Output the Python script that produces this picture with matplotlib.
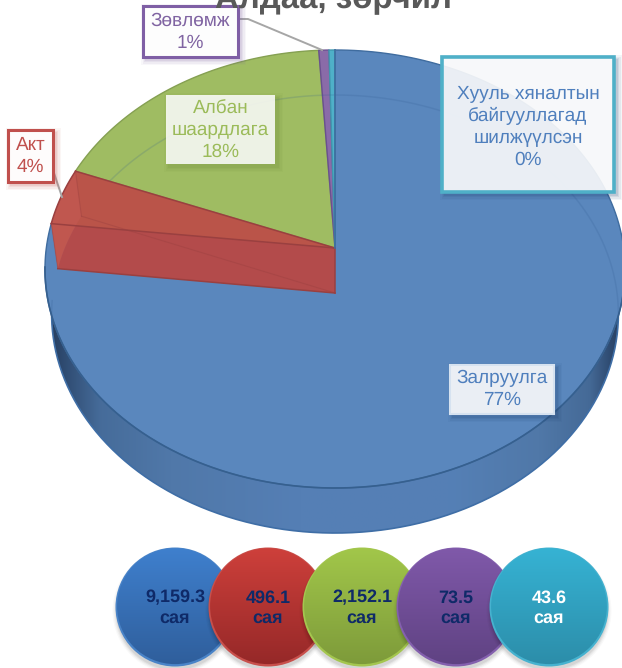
import numpy as np
import matplotlib
matplotlib.use("Agg")
import matplotlib.pyplot as plt
from matplotlib.patches import Polygon, Circle, Rectangle
from matplotlib.colors import to_rgb

# ---- data ----
names = ["Залруулга", "Акт", "Албан\nшаардлага", "Зөвлөмж", "Хууль хяналтын\nбайгууллагад\nшилжүүлсэн"]
values = [9159.3, 496.1, 2152.1, 73.5, 43.6]
face_colors = ["#5A87BD", "#BC5249", "#9FBC62", "#8A6BA8", "#4FB0C8"]
label_colors = ["#4F7FBD", "#C0504D", "#9BBB59", "#8064A2", "#4F7FBD"]
title = "Алдаа, зөрчил"
unit = "сая"

W, H = 622, 668
plt.rcParams["font.family"] = ["Liberation Sans", "DejaVu Sans"]
plt.rcParams["text.hinting"] = "no_hinting"
plt.rcParams["text.hinting_factor"] = 1
fig = plt.figure(figsize=(W / 100, H / 100), dpi=100)
ax = fig.add_axes([0, 0, 1, 1])
ax.set_xlim(0, W); ax.set_ylim(H, 0); ax.axis("off")

# ---- perspective pie geometry ----
CX, CY, RX, RY, K, DEPTH, BASE_SCALE = 335, 248, 288.7, 217, 0.0959, 45, 0.977

def top_pts(a, b, n=200):
    t = np.radians(np.linspace(a, b, n))
    d = 1 + K * np.cos(t)
    return np.column_stack([CX + RX * np.sin(t) / d, CY - RY * np.cos(t) / d])

def base_pts(a, b, n=200):
    p = top_pts(a, b, n)
    p[:, 0] = CX + (p[:, 0] - CX) * BASE_SCALE
    p[:, 1] += DEPTH
    return p

total = sum(values)
edges = np.concatenate([[0], np.cumsum(values) / total * 360])
apex = np.array([[CX, CY]])
apex_b = np.array([[CX, CY + DEPTH]])

# side wall with horizontal shading
side = Polygon(np.vstack([top_pts(90, 270), base_pts(270, 90)]), closed=True,
               facecolor="none", edgecolor="none", transform=ax.transData)
ax.add_patch(side)
xs = np.linspace(40, 630, 300)
stops_x = [40, 62, 100, 170, 300, 450, 540, 590, 612, 630]
stops_c = ["#22344F", "#2E4A70", "#466C9A", "#5078A9", "#557FB5", "#5580B6", "#5078A8", "#456A97", "#2E4A70", "#22344F"]
rgb = np.array([to_rgb(c) for c in stops_c])
grad = np.column_stack([np.interp(xs, stops_x, rgb[:, i]) for i in range(3)])[None, :, :]
im = ax.imshow(grad, extent=[40, 630, 540, 240], aspect="auto", interpolation="bilinear", zorder=1)
im.set_clip_path(side)
ax.set_xlim(0, W); ax.set_ylim(H, 0)
p = base_pts(90, 270)
ax.plot(p[:, 0], p[:, 1], color="#3F6EA6", lw=1.2, zorder=1.5)

# slices
order = [0, 2, 3, 4]
edge_dark = {0: "#3F6C9F", 2: "#85A052", 3: "#6A5090", 4: "#3F97AE"}
for i in order:
    arc = top_pts(edges[i], edges[i + 1])
    ax.add_patch(Polygon(np.vstack([apex, arc]), closed=True, facecolor=face_colors[i],
                         edgecolor=edge_dark[i], lw=1.0, zorder=2, joinstyle="round"))

# base ring seen through the transparent top
ring = base_pts(0, 360, 400)
keep = ~((ring[:, 1] < 300) & (ring[:, 0] < 100) & (ring[:, 1] > 170))
rx, ry = ring[:, 0].copy(), ring[:, 1].copy()
rx[~keep] = np.nan
ring_clip = Polygon(top_pts(0, 360, 400), closed=True, transform=ax.transData, facecolor="none", edgecolor="none")
ax.add_patch(ring_clip)
ln, = ax.plot(rx, ry, color="#2F5A90", alpha=0.18, lw=1.1, zorder=2.5)
ln.set_clip_path(ring_clip)
ax.plot(*top_pts(95, 265).T, color="#36608F", lw=1.2, zorder=2.6)

# red slice drawn as translucent walls with an opaque floor
a, b = edges[1], edges[2]
t_arc, b_arc = top_pts(a, b, 40), base_pts(a, b, 40)
RED = "#BA5449"; RED_E = "#9A4040"
ax.add_patch(Polygon(np.vstack([apex_b, b_arc, t_arc[::-1][:1], apex]), closed=True,
                     facecolor=RED, edgecolor="none", zorder=2.9))
ax.add_patch(Polygon(np.vstack([apex, apex_b, b_arc[:1], t_arc[:1]]), closed=True,
                     facecolor="#B34B4C", alpha=0.9, edgecolor="none", zorder=3.1))
ax.add_patch(Polygon(np.vstack([t_arc, b_arc[::-1]]), closed=True,
                     facecolor="#C0574F", edgecolor="none", zorder=3.2))
ax.add_patch(Polygon(np.vstack([apex, t_arc]), closed=True, facecolor=RED, alpha=1.0,
                     edgecolor="none", zorder=3.05))
for seg in [np.vstack([apex, t_arc[:1]]), np.vstack([apex, t_arc[-1:]]), t_arc,
            np.vstack([apex_b, b_arc[:1]]), np.vstack([apex, apex_b])]:
    ax.plot(seg[:, 0], seg[:, 1], color=RED_E, lw=1.1, zorder=3.5)
for seg in [np.vstack([t_arc[:1], b_arc[:1]]), np.vstack([t_arc[-1:], b_arc[-1:]]),
            np.vstack([apex_b, b_arc[-1:]])]:
    ax.plot(seg[:, 0], seg[:, 1], color=RED_E, lw=0.8, alpha=0.4, zorder=3.4)
ax.plot([CX, CX], [50, CY], color="#3F6C9F", lw=1.2, zorder=3.6)

# ---- title (runs off the top of the picture, as in the reference) ----
ax.text(333, 8.5, title, ha="center", va="baseline", fontsize=23.5, fontweight="bold",
        color="#595959", zorder=6, clip_on=False)

# ---- callouts ----
def shadow_rect(x0, y0, x1, y1, color, z, off=3):
    for g, al in zip([5, 3.5, 2, 1], [0.05, 0.07, 0.09, 0.11]):
        ax.add_patch(Rectangle((x0 - g + off, y0 - g + off), x1 - x0 + 2 * g, y1 - y0 + 2 * g,
                               facecolor=color, edgecolor="none", alpha=al, zorder=z))

pct = [f"{round(v / total * 100)}%" for v in values]
boxes = [
    (450, 365, 554, 414, "#FFFFFF", 0.89, "#D6E2F0", 1.5, 502, 389, "#1F3F6F"),
    (8, 130, 53, 182, "#FFFFFF", 0.96, "#C0504D", 2.2, 30.5, 156, "#C0504D"),
    (166, 95, 275, 164, "#FFFFFF", 0.85, "none", 0, 220.5, 130, "#6F8A3A"),
    (143, 6, 238, 57, "#FFFFFF", 0.96, "#7F5FA5", 2.2, 190.5, 32, "#8064A2"),
    (442, 57, 614, 192, "#FFFFFF", 0.89, "#4FB0C8", 2.6, 528, 127, "#1F3F6F"),
]
ax.plot([53, 62], [170, 197], color="#A6A6A6", lw=1.4, zorder=3.8)
ax.plot([238, 248, 322], [19, 19, 50], color="#A6A6A6", lw=1.4, zorder=3.8)
for i, (x0, y0, x1, y1, fc, al, ec, lw, tx, ty, sh) in enumerate(boxes):
    shadow_rect(x0, y0, x1, y1, sh, 4)
    ax.add_patch(Rectangle((x0, y0), x1 - x0, y1 - y0, facecolor=fc, alpha=al, edgecolor="none", zorder=4.2))
    if lw:
        ax.add_patch(Rectangle((x0, y0), x1 - x0, y1 - y0, facecolor="none", edgecolor=ec, lw=lw, zorder=4.3))
    ax.text(tx, ty, f"{names[i]}\n{pct[i]}", ha="center", va="center", ma="center", fontsize=13.5,
            linespacing=1.28, color=label_colors[i], zorder=5)

# ---- value bubbles ----
bubble_x = [175, 268, 362, 456, 549]
bubble_top = ["#3F80CE", "#CE403B", "#A2C74A", "#8059AA", "#36B3D4"]
bubble_bot = ["#2F5E9B", "#952828", "#7D9A3A", "#5F4282", "#2C8DA9"]
bubble_rim = ["#4A84C8", "#C8504C", "#A4C64F", "#8460AE", "#46B2CF"]
text_col = ["#0F2A68", "#0F2A68", "#0F2A68", "#0F2A68", "#FFFFFF"]
BY, BR = 607, 59.5
for i, v in enumerate(values):
    z = 7 + i
    cx = bubble_x[i]
    for g, al in zip([4, 2.8, 1.6, 0.5], [0.025, 0.035, 0.05, 0.06]):
        ax.add_patch(Circle((cx, BY + 4), BR - 1 + g, facecolor="black", edgecolor="none", alpha=al, zorder=z))
    ax.add_patch(Circle((cx, BY), BR, facecolor=bubble_rim[i], edgecolor="none", zorder=z + 0.1))
    clip = Circle((cx, BY - 0.8), BR - 1.6, facecolor="none", edgecolor="none")
    ax.add_patch(clip)
    c0, c1 = np.array(to_rgb(bubble_top[i])), np.array(to_rgb(bubble_bot[i]))
    f = np.linspace(0, 1, 128)[:, None]
    g_img = (c0 * (1 - f) + c1 * f)[:, None, :]
    im = ax.imshow(g_img, extent=[cx - BR, cx + BR, BY + BR, BY - BR], aspect="auto",
                   interpolation="bilinear", zorder=z + 0.2)
    im.set_clip_path(clip)
    ax.text(cx, 598, f"{v:,.1f}", ha="center", va="center", fontsize=13, fontweight="bold",
            color=text_col[i], zorder=z + 0.3)
    ax.text(cx, 618, unit, ha="center", va="center", fontsize=13, fontweight="bold",
            color=text_col[i], zorder=z + 0.3)
ax.set_xlim(0, W); ax.set_ylim(H, 0)

fig.savefig("out.png", dpi=100, facecolor="white")
